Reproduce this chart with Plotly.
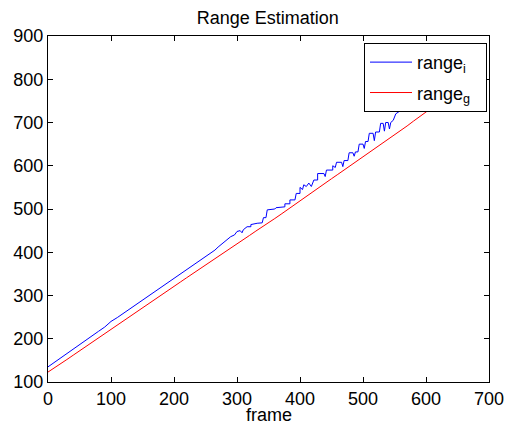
import plotly.graph_objects as go

# Estimated range (blue): frame numbers and values, with repeated frames at the jumps
blue_frame = [
    0, 10, 20, 30, 40, 50, 60, 70, 80, 90,
    100, 110, 120, 130, 140, 150, 160, 170, 180, 190,
    200, 210, 220, 230, 240, 250, 255, 260, 265, 270,
    275, 280, 285, 290, 296, 300, 305, 308, 310, 316,
    322, 322, 332, 340, 342, 346, 348, 360, 362, 370,
    376, 376, 384, 384, 392, 394, 400, 400, 404, 406,
    410, 414, 418, 422, 428, 428, 438, 440, 442, 452,
    452, 456, 458, 466, 468, 470, 476, 478, 484, 486,
    488, 492, 494, 500, 502, 504, 508, 510, 516, 518,
    520, 526, 528, 532, 534, 536, 540, 542, 544, 548,
    552, 560, 575, 590, 600,
]
blue_range = [
    135, 145, 155, 166, 175, 186, 196, 206, 217, 227,
    240, 249, 259, 270, 280, 289, 299, 309, 320, 330,
    340, 349, 359, 369, 380, 390, 394, 400, 405, 412,
    418, 425, 430, 436, 440, 448, 450, 445, 452, 459,
    459, 464, 467, 468, 480, 480, 498, 500, 503, 505,
    505, 512, 512, 521, 521, 536, 536, 550, 545, 556,
    552, 560, 552, 567, 567, 582, 582, 575, 590, 590,
    600, 596, 608, 608, 598, 612, 612, 630, 630, 622,
    632, 632, 650, 650, 640, 656, 656, 675, 675, 658,
    678, 678, 698, 698, 680, 700, 700, 685, 700, 705,
    720, 728, 745, 758, 770,
]

# Ground-truth range (red) sampled every 10 frames
red_frame = list(range(0, 650, 10))
red_range = [
    123, 132, 142, 152, 162, 172, 182, 192, 202, 212,
    222, 232, 243, 252, 262, 272, 282, 292, 302, 312,
    321, 331, 341, 351, 361, 371, 380, 390, 400, 410,
    419, 429, 439, 449, 458, 468, 478, 488, 498, 508,
    520, 530, 540, 550, 560, 570, 580, 590, 600, 610,
    620, 630, 640, 650, 660, 670, 681, 692, 703, 714,
    725, 735, 746, 756, 766,
]

x_ticks = [0, 100, 200, 300, 400, 500, 600, 700]
y_ticks = [100, 200, 300, 400, 500, 600, 700, 800, 900]

FONT = "Arial, Liberation Sans, Helvetica, sans-serif"
PAD = "&nbsp;" * 2

fig = go.Figure()
fig.add_trace(go.Scatter(
    x=blue_frame, y=blue_range, mode="lines",
    name="range<sub>i</sub>" + PAD, legendgroup="est",
    line=dict(color="#0000ff", width=1),
))
fig.add_trace(go.Scatter(
    x=red_frame, y=red_range, mode="lines",
    name="range<sub>g</sub>" + PAD, legendgroup="gt",
    line=dict(color="#ff0000", width=1),
))

axis_common = dict(
    showgrid=False, zeroline=False, showline=True, linecolor="black",
    linewidth=1, mirror="ticks", ticks="inside", ticklen=5,
    tickcolor="black", tickwidth=1, automargin=False,
    tickfont=dict(family=FONT, size=18, color="black"),
)

fig.update_layout(
    width=510, height=425,
    margin=dict(l=48, r=21, t=36, b=43),
    paper_bgcolor="white", plot_bgcolor="white",
    title=dict(text="Range Estimation", x=0.525, xanchor="center",
               y=0.958, yanchor="middle",
               font=dict(family=FONT, size=18, color="black")),
    xaxis=dict(range=[0, 700], tickvals=x_ticks, **axis_common),
    yaxis=dict(range=[100, 900], tickvals=y_ticks, **axis_common),
    legend=dict(x=0.9955, y=0.98, xanchor="right", yanchor="top",
                bgcolor="white", bordercolor="black", borderwidth=1,
                font=dict(family=FONT, size=18, color="black"),
                itemwidth=42, tracegroupgap=4),
    showlegend=True,
    annotations=[dict(
        text="frame", xref="paper", yref="paper", x=0.5, y=-0.095,
        xanchor="center", yanchor="middle", showarrow=False,
        font=dict(family=FONT, size=18, color="black"),
    )],
)

fig.write_html("out.html")
